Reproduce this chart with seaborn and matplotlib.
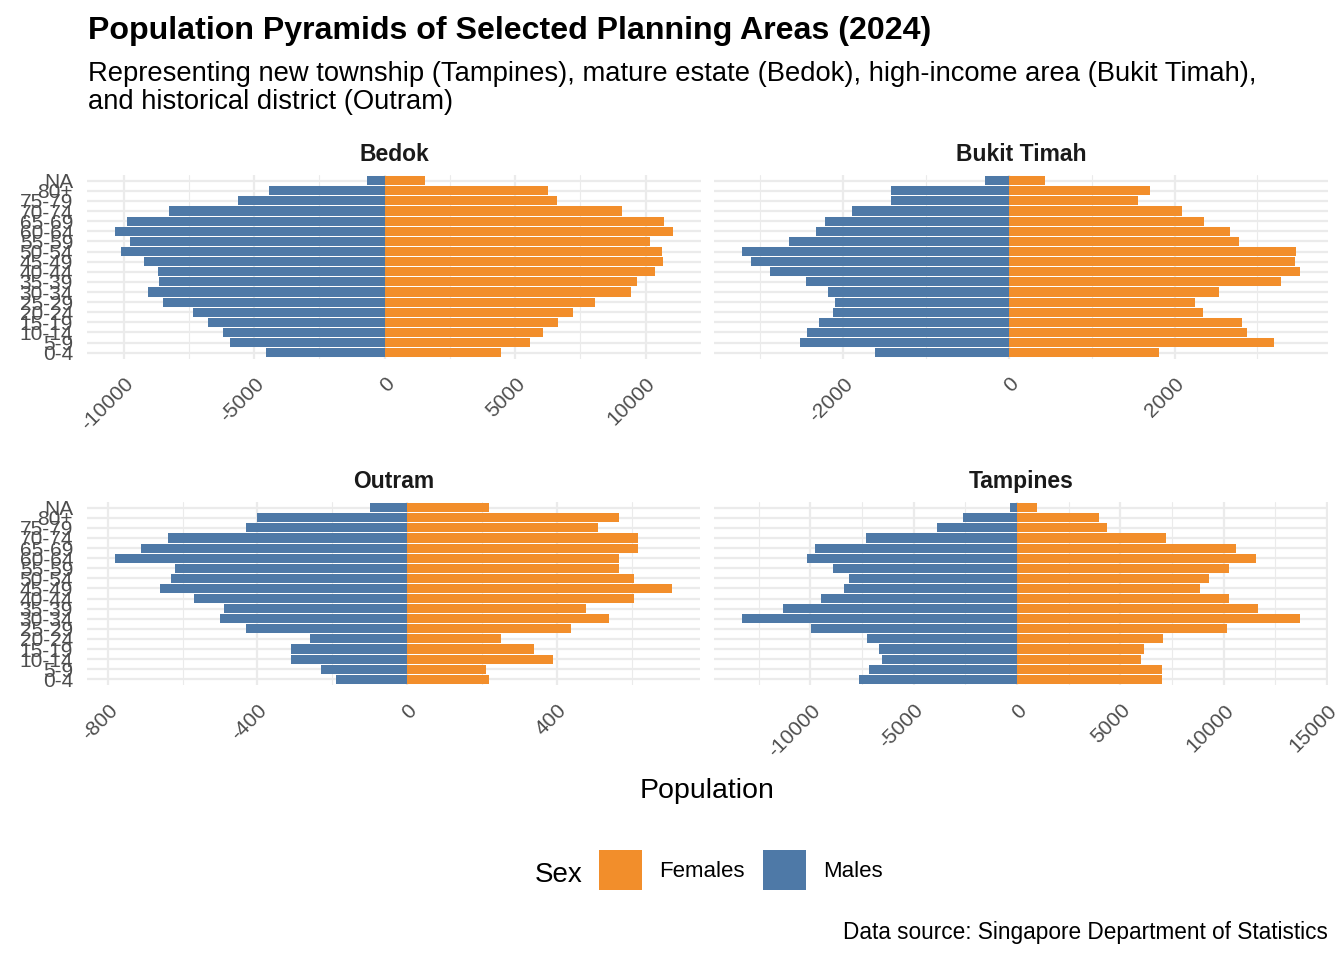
import matplotlib
matplotlib.use("Agg")
import matplotlib.pyplot as plt
import matplotlib.ticker as mticker
from matplotlib.patches import Patch
import seaborn as sns
import pandas as pd
import numpy as np

# ---------------- data ----------------
age_groups = ["0-4", "5-9", "10-14", "15-19", "20-24", "25-29", "30-34", "35-39",
              "40-44", "45-49", "50-54", "55-59", "60-64", "65-69", "70-74",
              "75-79", "80+", "NA"]

bedok_males = [4560, 5940, 6210, 6780, 7360, 8500, 9080, 8660, 8700, 9230,
               10110, 9770, 10340, 9880, 8280, 5630, 4440, 690]
bedok_females = [4450, 5560, 6060, 6640, 7210, 8060, 9440, 9670, 10360, 10670,
                 10630, 10170, 11050, 10700, 9090, 6600, 6250, 1535]

bukit_timah_males = [1610, 2520, 2430, 2290, 2120, 2095, 2180, 2445, 2880, 3110,
                     3220, 2650, 2325, 2215, 1890, 1417, 1417, 291]
bukit_timah_females = [1817, 3200, 2876, 2816, 2346, 2250, 2540, 3285, 3514, 3453,
                       3466, 2780, 2671, 2358, 2094, 1564, 1709, 433]

outram_males = [190, 230, 310, 310, 259, 430, 500, 489, 570, 660,
                631, 620, 781, 711, 639, 430, 401, 99]
outram_females = [218, 210, 389, 338, 250, 439, 538, 479, 607, 708,
                  607, 567, 567, 618, 618, 509, 567, 218]

tampines_males = [7640, 7170, 6540, 6680, 7250, 9970, 13310, 11320, 9480, 8370,
                  8140, 8910, 10150, 9780, 7310, 3870, 2610, 336]
tampines_females = [7010, 7010, 6000, 6140, 7070, 10170, 13690, 11670, 10250, 8850,
                    9280, 10250, 11570, 10610, 7210, 4365, 3970, 968]

areas = ["Bedok", "Bukit Timah", "Outram", "Tampines"]
males = {"Bedok": bedok_males, "Bukit Timah": bukit_timah_males,
         "Outram": outram_males, "Tampines": tampines_males}
females = {"Bedok": bedok_females, "Bukit Timah": bukit_timah_females,
           "Outram": outram_females, "Tampines": tampines_females}

rows = []
for a in areas:
    for g, m, f in zip(age_groups, males[a], females[a]):
        rows.append({"Area": a, "Age": g, "Sex": "Males", "Population": -m})
        rows.append({"Area": a, "Age": g, "Sex": "Females", "Population": f})
df = pd.DataFrame(rows)

colors = {"Females": "#F28E2B", "Males": "#4E79A7"}

# ---------------- style ----------------
sns.set_theme(style="white")
plt.rcParams["font.family"] = ["Liberation Sans", "DejaVu Sans"]
plt.rcParams["axes.unicode_minus"] = False

W, H = 1344, 960
fig = plt.figure(figsize=(W / 100, H / 100), dpi=100)
fig.patch.set_facecolor("white")

def px_axes(left, top, right, bottom):
    return fig.add_axes([left / W, 1 - bottom / H, (right - left) / W, (bottom - top) / H])

panel_boxes = {
    "Bedok": (87, 174.6, 701, 358.8),
    "Bukit Timah": (714, 174.6, 1328, 358.8),
    "Outram": (87, 501.6, 700, 685.4),
    "Tampines": (714, 501.6, 1328, 685.4),
}
major_step = {"Bedok": 5000, "Bukit Timah": 2000, "Outram": 400, "Tampines": 5000}

order = list(reversed(age_groups))  # NA at top

for a in areas:
    ax = px_axes(*panel_boxes[a])
    sub = df[df["Area"] == a]
    sns.barplot(data=sub, x="Population", y="Age", hue="Sex", order=order,
                hue_order=["Females", "Males"], palette=colors, dodge=False,
                width=0.9, orient="h", legend=False, ax=ax, zorder=3,
                saturation=1, edgecolor="none", linewidth=0)
    lo, hi = sub["Population"].min(), sub["Population"].max()
    pad = 0.05 * (hi - lo)
    ax.set_xlim(lo - pad, hi + pad)
    ax.set_ylim(len(order) - 0.4, -0.6)
    step = major_step[a]
    ax.xaxis.set_major_locator(mticker.MultipleLocator(step))
    ax.xaxis.set_minor_locator(mticker.MultipleLocator(step / 2))
    ax.xaxis.set_major_formatter(mticker.FuncFormatter(lambda v, p: f"{int(round(v))}"))
    ax.grid(True, which="major", axis="both", color="#EBEBEB", linewidth=1.6, zorder=0)
    ax.grid(True, which="minor", axis="x", color="#EBEBEB", linewidth=0.8, zorder=0)
    ax.set_axisbelow(True)
    for s in ax.spines.values():
        s.set_visible(False)
    ax.set_xlabel("")
    ax.set_ylabel("")
    ax.tick_params(axis="both", which="both", length=0)
    ax.tick_params(axis="x", pad=11, labelsize=15, labelcolor="#4D4D4D")
    for lab in ax.get_xticklabels():
        lab.set_rotation(45)
        lab.set_ha("right")
        lab.set_va("top")
        lab.set_rotation_mode("anchor")
    if a in ("Bedok", "Outram"):
        ax.tick_params(axis="y", pad=10, labelsize=15, labelcolor="#4D4D4D")
    else:
        ax.set_yticklabels([])
    l, t, r, b = panel_boxes[a]
    fig.text(((l + r) / 2) / W, 1 - (t - 14) / H, a, ha="center", va="baseline",
             fontsize=16.5, fontweight="bold", color="#1A1A1A")

# titles
fig.text(88 / W, 1 - 39 / H, "Population Pyramids of Selected Planning Areas (2024)",
         ha="left", va="baseline", fontsize=23.1, fontweight="bold", color="black")
fig.text(88 / W, 1 - 81 / H,
         "Representing new township (Tampines), mature estate (Bedok), high-income area (Bukit Timah),",
         ha="left", va="baseline", fontsize=19.7, color="black")
fig.text(88 / W, 1 - 109 / H, "and historical district (Outram)",
         ha="left", va="baseline", fontsize=19.7, color="black")

# axis title
fig.text(707.5 / W, 1 - 798 / H, "Population", ha="center", va="baseline",
         fontsize=20.5, color="black")

# legend
fig.text(535 / W, 1 - 882 / H, "Sex", ha="left", va="baseline", fontsize=20, color="black")
handles = [Patch(facecolor=colors["Females"], edgecolor="none", label="Females"),
           Patch(facecolor=colors["Males"], edgecolor="none", label="Males")]
fig.legend(handles=handles, loc="center left", bbox_to_anchor=(599 / W, 1 - 870 / H),
           ncol=2, frameon=False, fontsize=16, handlelength=1.94, handleheight=2.45,
           handletextpad=0.77, columnspacing=0.81, borderpad=0, borderaxespad=0,
           labelcolor="black")

# caption
fig.text(1328 / W, 1 - 939 / H, "Data source: Singapore Department of Statistics",
         ha="right", va="baseline", fontsize=16.3, color="black")

fig.savefig("out.png", dpi=100, facecolor="white")
